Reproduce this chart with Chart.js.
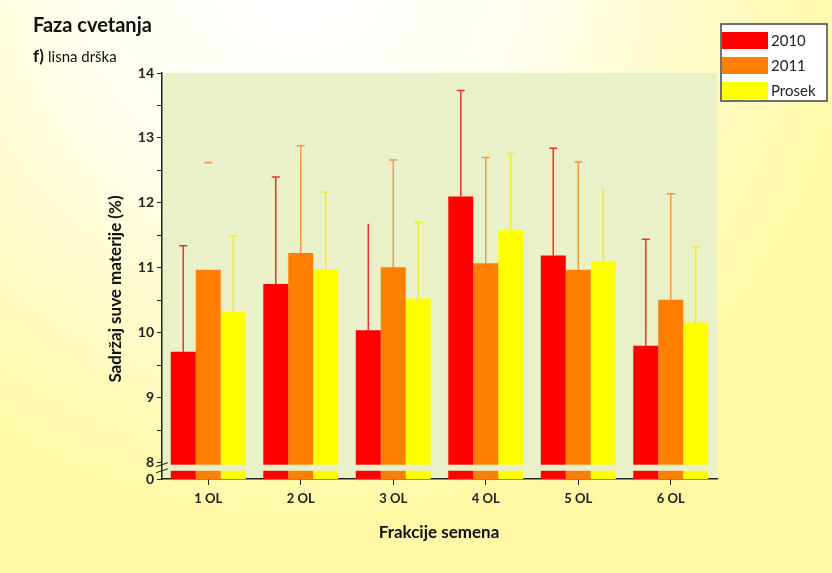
<!DOCTYPE html>
<html>
<head>
<meta charset="utf-8">
<script src="https://cdn.jsdelivr.net/npm/chart.js@4.4.0/dist/chart.umd.min.js"></script>
<style>
  html, body { margin: 0; padding: 0; background: #fffbb0; }
  #wrap { width: 832px; height: 573px; }
</style>
</head>
<body>
<div id="wrap"><canvas id="grafik" width="832" height="573"></canvas></div>
<script>
// ========== DATA ==========
const kategorije = ['1 OL', '2 OL', '3 OL', '4 OL', '5 OL', '6 OL'];
const serije = ['2010', '2011', 'Prosek'];

const vrednosti2010 = [9.71, 10.75, 10.04, 12.10, 11.19, 9.80];
const vrednosti2011 = [10.97, 11.23, 11.01, 11.07, 10.97, 10.51];
const vrednostiProsek = [10.32, 10.98, 10.53, 11.58, 11.09, 10.16];

// standardna devijacija (samo gornji deo)
const sd2010 = [1.63, 1.65, 1.64, 1.63, 1.65, 1.64];
const sd2011 = [1.65, 1.65, 1.65, 1.63, 1.66, 1.63];
const sdProsek = [1.17, 1.19, 1.17, 1.18, 1.15, 1.16];

// greske kojima u originalu fali linija ili kapica: [serija, kategorija]
const bezLinije = [[1, 0]];
const bezKape = [[0, 2], [2, 4]];

const yPodeoci = [8, 8.5, 9, 9.5, 10, 10.5, 11, 11.5, 12, 12.5, 13, 13.5, 14];
const yNula = 7.75; // prekid ose: "0" ispod 8

const boje = ['#ff0000', '#ff8000', '#ffff00'];
const bojeGresaka = ['#e8322c', '#f59a3a', '#f0ee22'];
const bojaPolja = '#eaf0c8';

const ima = (lista, i, j) => lista.some(p => p[0] === i && p[1] === j);

// ========== PLUGINI ==========
const pozadina = {
    id: 'pozadina',
    beforeDraw(chart) {
        const ctx = chart.ctx;
        const a = chart.chartArea;
        ctx.save();
        const g = ctx.createRadialGradient(300, -40, 40, 300, -40, 560);
        g.addColorStop(0, '#ffffff');
        g.addColorStop(0.35, '#fffef0');
        g.addColorStop(1, '#fff9a6');
        ctx.fillStyle = g;
        ctx.fillRect(0, 0, chart.width, chart.height);
        ctx.fillStyle = bojaPolja;
        ctx.fillRect(a.left, a.top, a.right - a.left, a.bottom - a.top);
        ctx.restore();
    }
};

const greske = {
    id: 'greske',
    afterDatasetsDraw(chart) {
        const ctx = chart.ctx;
        const y = chart.scales.y;
        const sdovi = [sd2010, sd2011, sdProsek];
        ctx.save();
        chart.data.datasets.forEach((ds, i) => {
            const meta = chart.getDatasetMeta(i);
            meta.data.forEach((bar, j) => {
                const vrh = y.getPixelForValue(ds.data[j] + sdovi[i][j]);
                ctx.strokeStyle = bojeGresaka[i];
                ctx.lineWidth = 1.5;
                ctx.beginPath();
                if (!ima(bezLinije, i, j)) {
                    ctx.moveTo(bar.x, bar.y);
                    ctx.lineTo(bar.x, vrh);
                }
                if (!ima(bezKape, i, j)) {
                    ctx.moveTo(bar.x - 4, vrh);
                    ctx.lineTo(bar.x + 4, vrh);
                }
                ctx.stroke();
            });
        });

        // prekid ose
        const a = chart.chartArea;
        const p1 = y.getPixelForValue(7.97);
        const p2 = y.getPixelForValue(7.877);
        ctx.fillStyle = bojaPolja;
        ctx.fillRect(a.left + 1, p1, a.right - a.left - 1, p2 - p1);
        ctx.strokeStyle = '#222';
        ctx.lineWidth = 1;
        ctx.beginPath();
        ctx.moveTo(a.left - 6, p1 + 2); ctx.lineTo(a.left + 6, p1 - 2);
        ctx.moveTo(a.left - 6, p2 + 2); ctx.lineTo(a.left + 6, p2 - 2);
        ctx.stroke();
        ctx.restore();
    }
};

const tekstovi = {
    id: 'tekstovi',
    afterDraw(chart) {
        const ctx = chart.ctx;
        ctx.save();
        ctx.fillStyle = '#111';
        ctx.textBaseline = 'alphabetic';
        ctx.textAlign = 'left';
        ctx.font = 'bold 20px Lato';
        ctx.fillText('Faza cvetanja', 33, 32);
        ctx.font = 'bold 17px Lato';
        ctx.fillText('f)', 33, 62);
        ctx.font = '15px Lato';
        ctx.fillText('lisna drška', 48, 62);

        // naslovi osa
        ctx.font = 'bold 17px Lato';
        ctx.textAlign = 'center';
        ctx.fillText('Frakcije semena', 439, 538);
        ctx.save();
        ctx.translate(116, 289);
        ctx.rotate(-Math.PI / 2);
        ctx.textBaseline = 'middle';
        ctx.fillText('Sadržaj suve materije (%)', 0, 0);
        ctx.restore();

        // legenda
        ctx.fillStyle = '#ffffff';
        ctx.fillRect(721, 24, 106, 77);
        ctx.strokeStyle = '#444';
        ctx.lineWidth = 1.5;
        ctx.strokeRect(721, 24, 106, 77);
        const redovi = [32, 57, 82];
        ctx.font = '15px Lato';
        ctx.textAlign = 'left';
        ctx.textBaseline = 'middle';
        serije.forEach((s, i) => {
            ctx.fillStyle = boje[i];
            ctx.fillRect(722, redovi[i], 46, 17);
            ctx.fillStyle = '#222';
            ctx.fillText(s, 771, redovi[i] + 9);
        });
        ctx.restore();
    }
};

// ========== GRAFIK ==========
new Chart(document.getElementById('grafik'), {
    type: 'bar',
    data: {
        labels: kategorije,
        datasets: [
            { label: serije[0], data: vrednosti2010, backgroundColor: boje[0] },
            { label: serije[1], data: vrednosti2011, backgroundColor: boje[1] },
            { label: serije[2], data: vrednostiProsek, backgroundColor: boje[2] }
        ]
    },
    options: {
        responsive: false,
        animation: false,
        categoryPercentage: 0.81,
        barPercentage: 1.0,
        layout: { padding: { left: 0, top: 73, right: 115, bottom: 0 } },
        plugins: {
            legend: { display: false },
            tooltip: { enabled: false }
        },
        scales: {
            x: {
                grid: { display: true, offset: false, drawOnChartArea: false, drawTicks: true, tickLength: 6, color: '#222', lineWidth: 1 },
                border: { display: true, color: '#222', width: 1.5 },
                ticks: { color: '#222', font: { family: 'Lato', size: 13, weight: 'bold' }, padding: 6 },
                afterFit(s) { s.height = 94; }
            },
            y: {
                min: yNula,
                max: 14,
                afterBuildTicks(s) {
                    s.ticks = [yNula, ...yPodeoci].map(v => ({ value: v }));
                },
                grid: { display: true, drawOnChartArea: false, drawTicks: true, tickLength: 5, color: '#222', lineWidth: 1 },
                border: { display: true, color: '#222', width: 1.5 },
                ticks: {
                    color: '#222',
                    font: { family: 'Lato', size: 14, weight: 'bold' },
                    padding: 3,
                    autoSkip: false,
                    callback(v) {
                        if (v === yNula) return '0';
                        return Number.isInteger(v) ? String(v) : '';
                    }
                },
                afterFit(s) { s.width = 162; }
            }
        }
    },
    plugins: [pozadina, greske, tekstovi]
});
</script>
</body>
</html>
